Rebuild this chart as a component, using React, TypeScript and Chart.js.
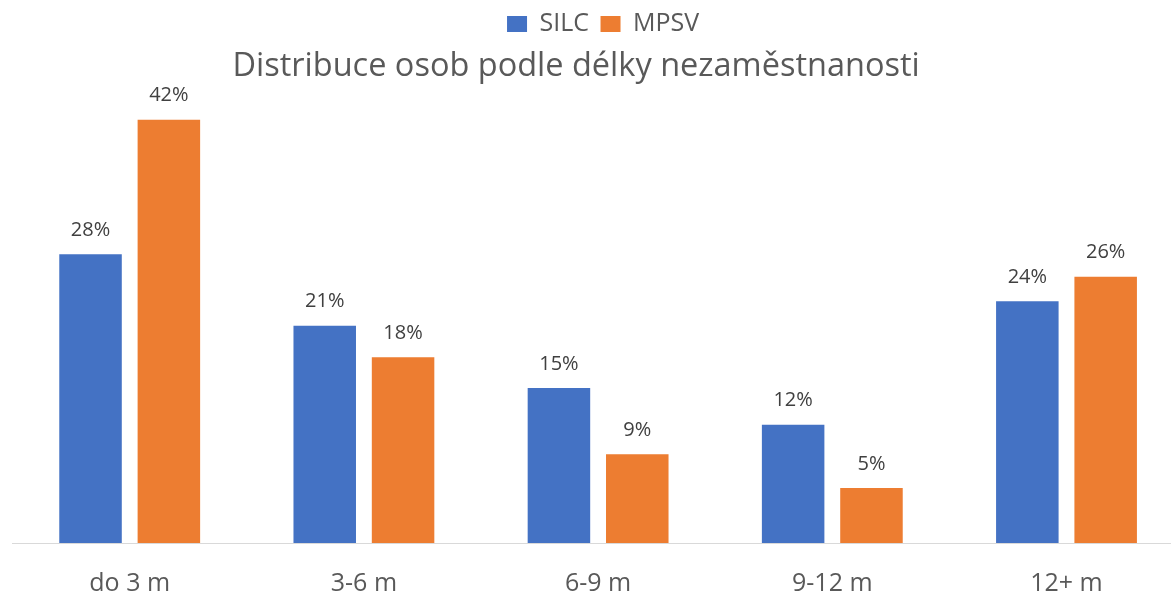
import React, { useEffect, useRef } from "react";
import { Chart, registerables } from "chart.js";

Chart.register(...registerables);

const categories = ["do 3 m", "3-6 m", "6-9 m", "9-12 m", "12+ m"];
const silcValues = [28.3, 21.3, 15.2, 11.6, 23.7];
const mpsvValues = [41.5, 18.2, 8.7, 5.4, 26.1];
const seriesNames = ["SILC", "MPSV"];
const seriesColors = ["#4472C4", "#ED7D31"];
const chartTitle = "Distribuce osob podle délky nezaměstnanosti";
const yMax = 44.75;

const FONT = "'Open Sans', sans-serif";

const shiftPlugin = {
  id: "shiftBlocks",
  afterLayout(chart: any) {
    const t = chart.titleBlock;
    if (t) {
      t.left -= 22;
      t.right -= 22;
    }
    const l = chart.legend;
    if (l) {
      l.left += 5;
      l.right += 5;
    }
  },
};

const valueLabels = {
  id: "valueLabels",
  afterDatasetsDraw(chart: any) {
    const ctx = chart.ctx;
    ctx.save();
    ctx.font = `20px ${FONT}`;
    ctx.fillStyle = "#404040";
    ctx.textAlign = "center";
    ctx.textBaseline = "middle";
    chart.data.datasets.forEach((ds: any, i: number) => {
      const meta = chart.getDatasetMeta(i);
      meta.data.forEach((bar: any, j: number) => {
        const v = ds.data[j] as number;
        ctx.fillText(Math.round(v) + "%", bar.x, bar.y - 24);
      });
    });
    ctx.restore();
  },
};

export default function App() {
  const ref = useRef<HTMLCanvasElement>(null);
  useEffect(() => {
    const chart = new Chart(ref.current as HTMLCanvasElement, {
      type: "bar",
      data: {
        labels: categories,
        datasets: [
          {
            label: seriesNames[0],
            data: silcValues,
            backgroundColor: seriesColors[0],
            borderWidth: 0,
            categoryPercentage: 0.669,
            barPercentage: 0.798,
          },
          {
            label: seriesNames[1],
            data: mpsvValues,
            backgroundColor: seriesColors[1],
            borderWidth: 0,
            categoryPercentage: 0.669,
            barPercentage: 0.798,
          },
        ],
      },
      options: {
        responsive: false,
        animation: false,
        devicePixelRatio: 1,
        layout: { padding: { left: 12.6, right: 16.4, top: 0, bottom: 0 } },
        plugins: {
          legend: {
            display: true,
            position: "top",
            weight: 3000,
            labels: {
              boxWidth: 20,
              boxHeight: 16,
              padding: 11.5,
              color: "#595959",
              font: { size: 25, family: FONT },
            },
          },
          title: {
            display: true,
            text: chartTitle,
            color: "#595959",
            font: { size: 32.5, weight: "normal", family: FONT },
            padding: { top: 1, bottom: 0 },
          },
          tooltip: { enabled: false },
        },
        scales: {
          x: {
            grid: { display: false, drawTicks: true, tickLength: 26 },
            border: { display: true, color: "#d9d9d9", width: 1 },
            ticks: {
              color: "#595959",
              padding: 0,
              font: { size: 25, family: FONT },
            },
          },
          y: {
            display: false,
            min: 0,
            max: yMax,
          },
        },
      } as any,
      plugins: [shiftPlugin, valueLabels],
    });
    return () => chart.destroy();
  }, []);
  return (
    <div
      style={{
        position: "fixed",
        left: 0,
        top: 0,
        width: 1171,
        height: 599,
        overflow: "hidden",
        background: "#fff",
      }}
    >
      <canvas
        ref={ref}
        width={1200}
        height={599}
        style={{ display: "block", width: 1200, height: 599 }}
      />
    </div>
  );
}
